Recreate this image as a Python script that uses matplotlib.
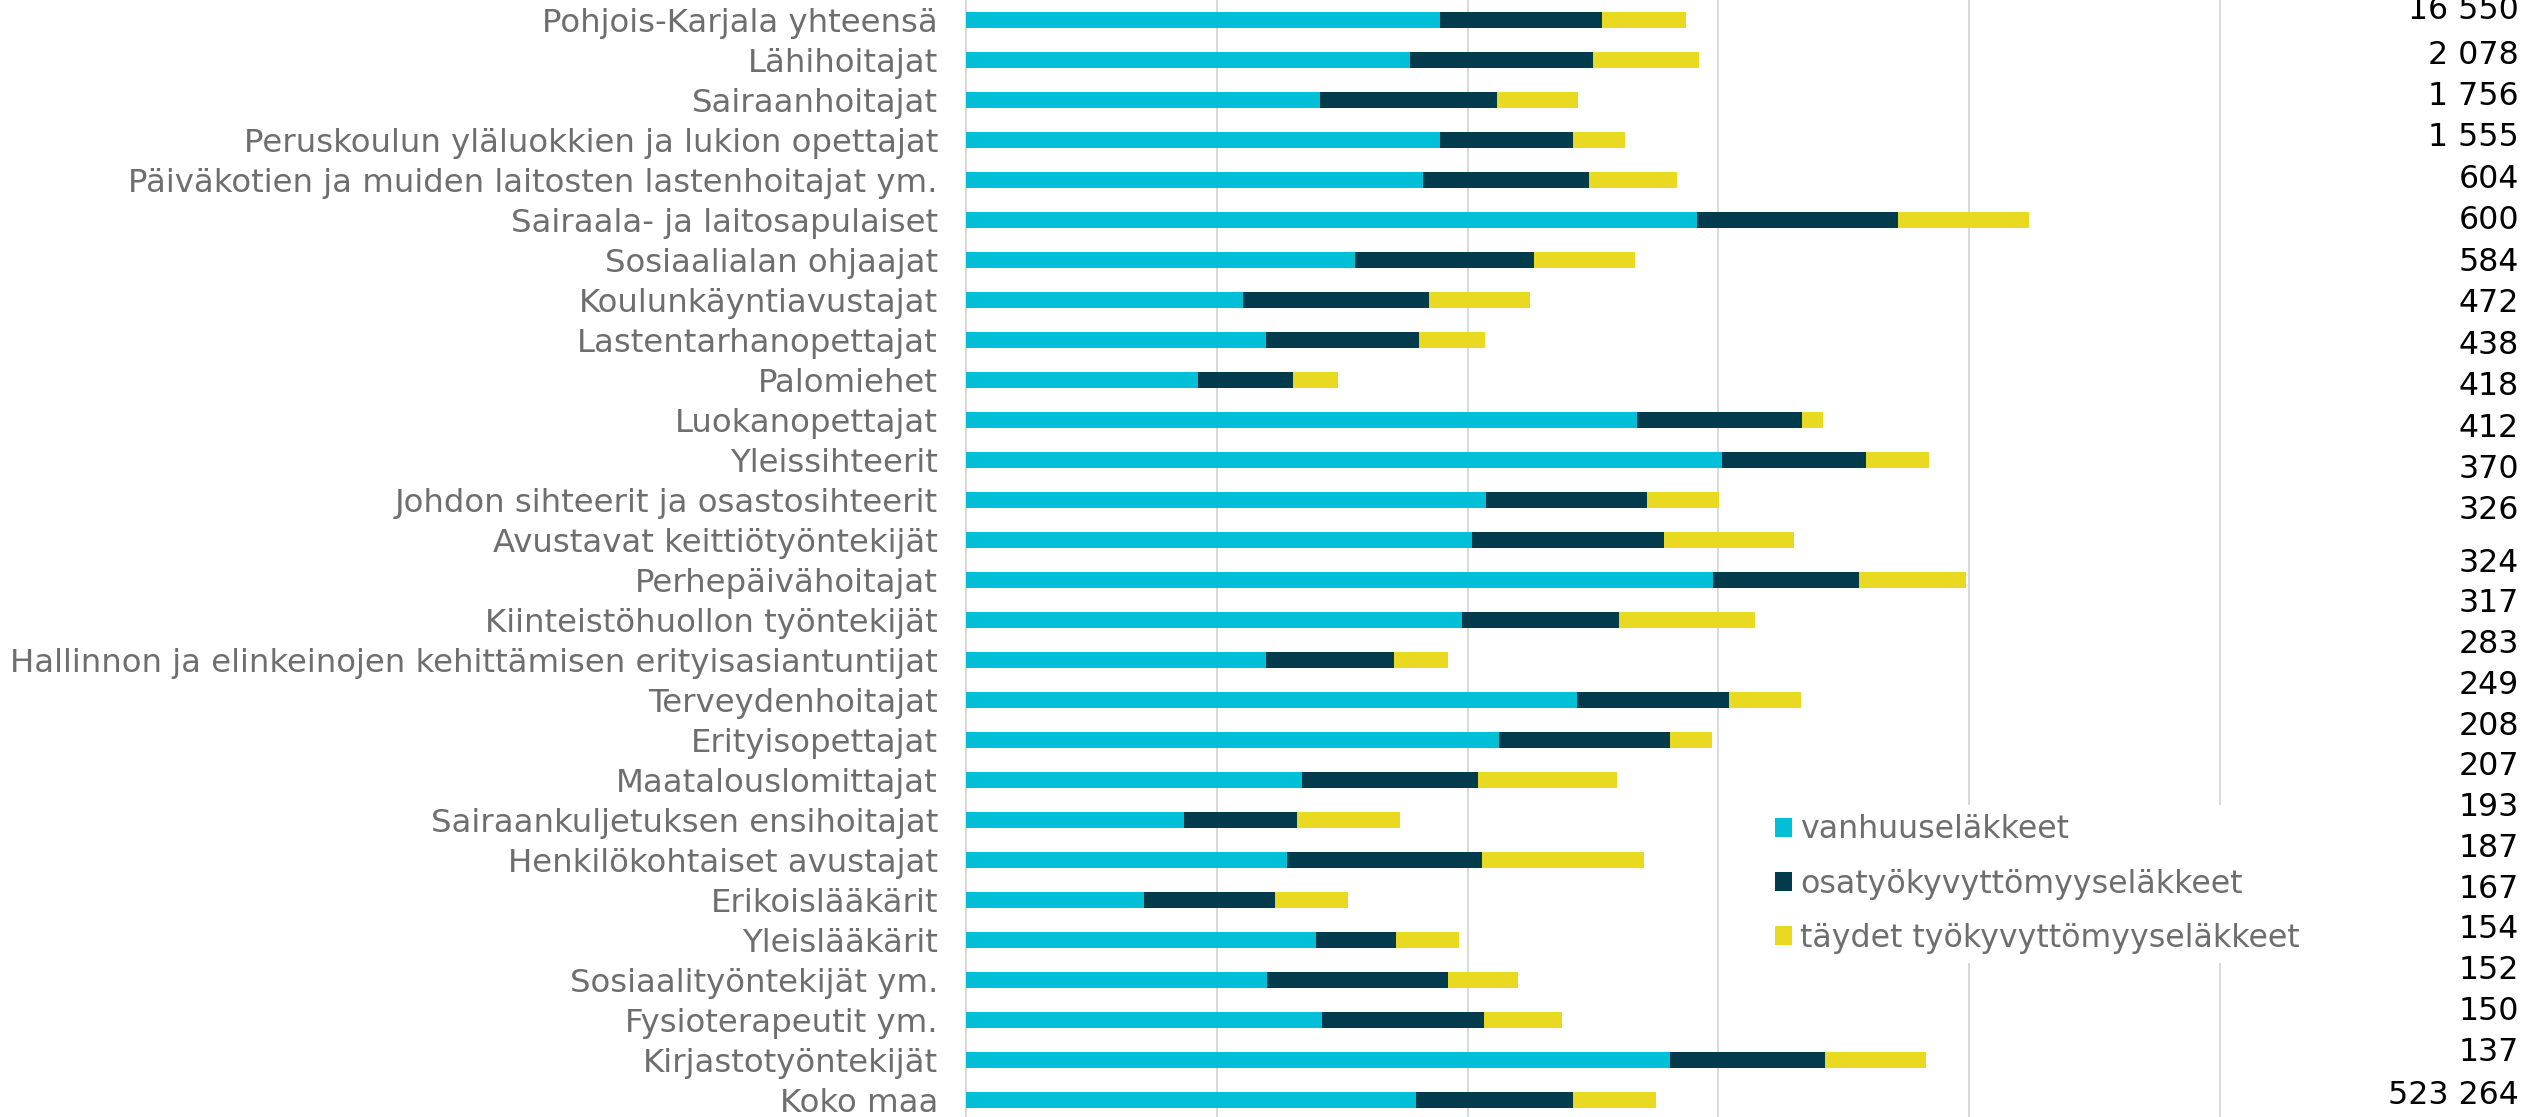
import matplotlib.pyplot as plt
from matplotlib.patches import Patch

# categories top to bottom
kategoriat = [
    'Pohjois-Karjala yhteensä', 'Lähihoitajat', 'Sairaanhoitajat',
    'Peruskoulun yläluokkien ja lukion opettajat',
    'Päiväkotien ja muiden laitosten lastenhoitajat ym.',
    'Sairaala- ja laitosapulaiset', 'Sosiaalialan ohjaajat',
    'Koulunkäyntiavustajat', 'Lastentarhanopettajat', 'Palomiehet',
    'Luokanopettajat', 'Yleissihteerit', 'Johdon sihteerit ja osastosihteerit',
    'Avustavat keittiötyöntekijät', 'Perhepäivähoitajat',
    'Kiinteistöhuollon työntekijät',
    'Hallinnon ja elinkeinojen kehittämisen erityisasiantuntijat',
    'Terveydenhoitajat', 'Erityisopettajat', 'Maatalouslomittajat',
    'Sairaankuljetuksen ensihoitajat', 'Henkilökohtaiset avustajat',
    'Erikoislääkärit', 'Yleislääkärit', 'Sosiaalityöntekijät ym.',
    'Fysioterapeutit ym.', 'Kirjastotyöntekijät', 'Koko maa',
]

vanhuus = [0.945, 0.885, 0.705, 0.944, 0.912, 1.458, 0.776, 0.552, 0.599, 0.463,
           1.337, 1.507, 1.037, 1.008, 1.490, 0.989, 0.599, 1.219, 1.063, 0.670,
           0.434, 0.639, 0.355, 0.698, 0.600, 0.710, 1.404, 0.898]
osatyo = [0.322, 0.365, 0.354, 0.267, 0.331, 0.401, 0.356, 0.372, 0.305, 0.188,
          0.329, 0.288, 0.321, 0.384, 0.290, 0.313, 0.254, 0.302, 0.341, 0.351,
          0.225, 0.389, 0.262, 0.160, 0.360, 0.322, 0.309, 0.313]
taydet = [0.168, 0.211, 0.161, 0.102, 0.174, 0.260, 0.202, 0.200, 0.130, 0.091,
          0.043, 0.124, 0.144, 0.258, 0.214, 0.271, 0.107, 0.144, 0.084, 0.277,
          0.207, 0.324, 0.144, 0.125, 0.140, 0.157, 0.200, 0.165]

# numbers in the text box at the right
lukumaarat = [16550, 2078, 1756, 1555, 604, 600, 584, 472, 438, 418, 412, 370,
              326, 324, 317, 283, 249, 208, 207, 193, 187, 167, 154, 152, 150,
              137, 523264]

sarjat = ['vanhuuseläkkeet', 'osatyökyvyttömyyseläkkeet',
          'täydet työkyvyttömyyseläkkeet']
varit = ['#00bfd6', '#023b4b', '#e9da21']

W, H = 2532, 1117
fig = plt.figure(figsize=(W / 100, H / 100), dpi=100)
unit = 501.6  # px per data unit
ax = fig.add_axes([(966 - 0.01 * unit) / W, 0, 2.52 * unit / W, 1])

y = list(range(len(kategoriat)))
left2 = [a + b for a, b in zip(vanhuus, osatyo)]
ax.barh(y, vanhuus, height=0.4, color=varit[0], zorder=3)
ax.barh(y, osatyo, left=vanhuus, height=0.4, color=varit[1], zorder=3)
ax.barh(y, taydet, left=left2, height=0.4, color=varit[2], zorder=3)

ax.set_xlim(-0.01, 2.51)
ax.set_ylim(27.425, -0.5)
ax.set_xticks([0, 0.5, 1.0, 1.5, 2.0, 2.5])
ax.set_xticklabels([])
ax.grid(axis='x', color='#d9d9d9', linewidth=1.4, zorder=0)
ax.tick_params(axis='x', length=0)
ax.set_yticks(y)
ax.set_yticklabels(kategoriat, fontsize=23.3, color='#6e6e6e')
ax.tick_params(axis='y', length=0, pad=16.6)
for s in ax.spines.values():
    s.set_visible(False)

handles = [Patch(facecolor=c, edgecolor='none') for c in varit]
leg = ax.legend(handles, sarjat, loc='upper left',
                bbox_to_anchor=(1765 / W, 1 - 805 / H),
                bbox_transform=fig.transFigure, fontsize=22.8,
                labelcolor='#6e6e6e', frameon=True, facecolor='white',
                edgecolor='none', framealpha=1, fancybox=False,
                handlelength=0.54, handleheight=0.54, handletextpad=0.28,
                labelspacing=0.73, borderpad=0.3, borderaxespad=0)
leg.set_zorder(5)

# right-hand number column
fs_px = 22.8 * 100 / 72
for i, n in enumerate(lukumaarat):
    if i == 0:
        yc = 7
    elif i <= 12:
        yc = 52 + (i - 1) * 41.45
    else:
        yc = 560 + (i - 13) * 40.75
    if i == len(lukumaarat) - 1:
        yc += 3
    txt = f'{n:,}'.replace(',', ' ')
    fig.text(2519 / W, 1 - (yc + 0.364 * fs_px) / H, txt, ha='right',
             va='baseline', fontsize=22.8, color='black')

fig.savefig('out.png', dpi=100)
